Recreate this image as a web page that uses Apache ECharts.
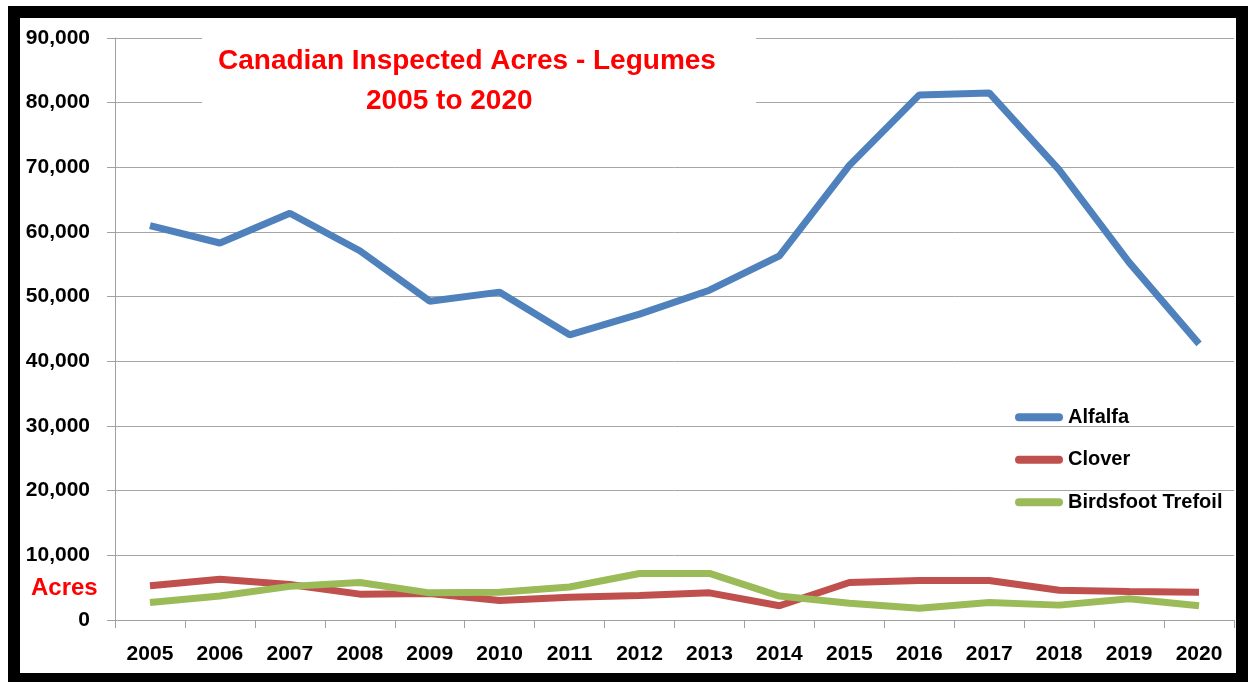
<!DOCTYPE html>
<html lang="en">

<head>
    <meta charset="UTF-8">
    <title>Canadian Inspected Acres - Legumes</title>
    <script src="https://cdn.jsdelivr.net/npm/echarts@6/dist/echarts.min.js" charset="utf-8"></script>
    <style>
        body { margin: 0; background: #fff; }
    </style>
</head>

<body>

    <div id="main" style="width: 1248px;height:682px;"></div>
    <script type="text/javascript">
        var years = ['2005', '2006', '2007', '2008', '2009', '2010', '2011', '2012',
                     '2013', '2014', '2015', '2016', '2017', '2018', '2019', '2020'];
        var alfalfa = [61000, 58300, 62900, 57100, 49300, 50700, 44100, 47300,
                       51000, 56300, 70300, 81200, 81500, 69600, 55300, 42700];
        var clover = [5300, 6300, 5500, 4000, 4100, 3000, 3500, 3800,
                      4200, 2200, 5800, 6100, 6100, 4600, 4400, 4300];
        var trefoil = [2700, 3700, 5200, 5800, 4200, 4300, 5100, 7200,
                       7200, 3700, 2600, 1800, 2700, 2300, 3300, 2200];
        var yTicks = [0, 10000, 20000, 30000, 40000, 50000, 60000, 70000, 80000, 90000];

        // no narrow face installed, so sizes are picked to match the widths
        var font = '"Liberation Sans", Arial, sans-serif';
        var pill = 'path://M4,0 H44 A4,4 0 0 1 44,8 H4 A4,4 0 0 1 4,0 Z';

        var myChart = echarts.init(document.getElementById('main'));

        function fmt(v) {
            return String(v).replace(/\B(?=(\d{3})+(?!\d))/g, ',');
        }

        var option = {
            animation: false,
            backgroundColor: '#fff',
            title: [
                {
                    // white box hiding the gridlines behind the title
                    text: 'Canadian Inspected Acres - Legumes',
                    left: 202,
                    top: 30,
                    padding: [17, 40, 45, 16],
                    backgroundColor: '#fff',
                    textStyle: {
                        color: '#ff0000',
                        fontFamily: font,
                        fontWeight: 'bold',
                        fontSize: 28
                    },
                    z: 5
                },
                {
                    text: '2005 to 2020',
                    left: 366,
                    top: 87,
                    padding: 0,
                    textStyle: {
                        color: '#ff0000',
                        fontFamily: font,
                        fontWeight: 'bold',
                        fontSize: 28
                    },
                    z: 6
                }
            ],
            legend: {
                orient: 'vertical',
                left: 1010,
                top: 400,
                itemWidth: 48,
                itemHeight: 8,
                itemGap: 18,
                icon: pill,
                textStyle: {
                    color: '#000',
                    fontFamily: font,
                    fontWeight: 'bold',
                    fontSize: 20,
                    lineHeight: 24.5
                },
                data: ['Alfalfa', 'Clover', 'Birdsfoot Trefoil']
            },
            grid: {
                left: 115,
                right: 14,
                top: 38,
                bottom: 62
            },
            xAxis: {
                type: 'category',
                boundaryGap: true,
                data: years,
                axisLine: { lineStyle: { color: '#a0a0a0', width: 1 } },
                axisTick: { show: true, length: 8, lineStyle: { color: '#a0a0a0' } },
                axisLabel: {
                    margin: 24,
                    color: '#000',
                    fontFamily: font,
                    fontWeight: 'bold',
                    fontSize: 21
                }
            },
            yAxis: {
                type: 'value',
                min: yTicks[0],
                max: yTicks[yTicks.length - 1],
                interval: yTicks[1] - yTicks[0],
                axisLine: { show: true, lineStyle: { color: '#a0a0a0', width: 1 } },
                axisTick: { show: true, length: 8, lineStyle: { color: '#a0a0a0' } },
                splitLine: { show: true, lineStyle: { color: '#a6a6a6', width: 1 } },
                axisLabel: {
                    margin: 25,
                    color: '#000',
                    fontFamily: font,
                    fontWeight: 'bold',
                    fontSize: 21,
                    formatter: fmt
                }
            },
            graphic: [
                {
                    type: 'text',
                    left: 31,
                    top: 576,
                    style: {
                        text: 'Acres',
                        fill: '#ff0000',
                        font: 'bold 24px ' + font
                    }
                },
                {
                    // black frame around the chart
                    type: 'rect',
                    shape: { x: 14, y: 12, width: 1228, height: 667 },
                    style: { fill: 'none', stroke: '#000', lineWidth: 12 },
                    z: 100
                }
            ],
            series: [
                {
                    name: 'Alfalfa',
                    type: 'line',
                    data: alfalfa,
                    showSymbol: false,
                    color: '#4f81bd',
                    lineStyle: { width: 7, color: '#4f81bd' }
                },
                {
                    name: 'Clover',
                    type: 'line',
                    data: clover,
                    showSymbol: false,
                    color: '#c0504d',
                    lineStyle: { width: 7, color: '#c0504d' }
                },
                {
                    name: 'Birdsfoot Trefoil',
                    type: 'line',
                    data: trefoil,
                    showSymbol: false,
                    color: '#9bbb59',
                    lineStyle: { width: 7, color: '#9bbb59' }
                }
            ]
        };

        myChart.setOption(option);
    </script>
</body>
</html>
